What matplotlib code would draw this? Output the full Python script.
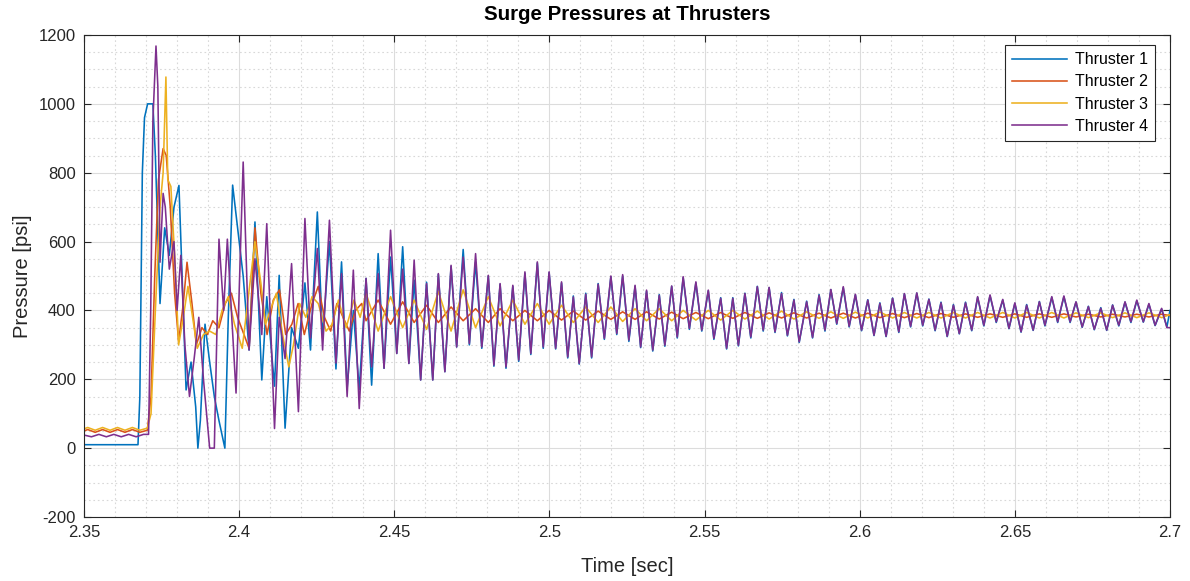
import numpy as np
import matplotlib
matplotlib.use("Agg")
import matplotlib.pyplot as plt
from matplotlib.ticker import MultipleLocator, FuncFormatter

plt.rcParams['font.family'] = ['Liberation Sans', 'DejaVu Sans']
plt.rcParams['axes.unicode_minus'] = False

# ---------------- data ----------------
series_names = ['Thruster 1', 'Thruster 2', 'Thruster 3', 'Thruster 4']
series_colors = ['#0072BD', '#D95319', '#EDB120', '#7E2F8E']

# early transient, Thruster 1
t1_early = [2.3500, 2.3674, 2.3680, 2.3688, 2.3695, 2.3705, 2.3722, 2.3730, 2.3745,
            2.3760, 2.3775, 2.3790, 2.3806, 2.3818, 2.3829, 2.3845, 2.3860, 2.3867,
            2.3875, 2.3890, 2.3905, 2.3920, 2.3935, 2.3954, 2.3965, 2.3979]
p1_early = [10, 10, 150, 800, 960, 1000, 1000, 850, 420,
            640, 560, 700, 763, 450, 169, 250, 120, 0,
            80, 360, 250, 150, 80, 0, 380, 764]

# early transient, Thruster 4
t4_early = [2.3500, 2.3524, 2.3548, 2.3572, 2.3596, 2.3620, 2.3644, 2.3668, 2.3692,
            2.3708, 2.3715, 2.3722, 2.3732, 2.3738, 2.3745, 2.3755, 2.3762, 2.3775,
            2.3790, 2.3800, 2.3812, 2.3825, 2.3840, 2.3855, 2.3870, 2.3885, 2.3905,
            2.3920, 2.3935, 2.3950, 2.3962, 2.3990]
p4_early = [38, 33, 40, 33, 40, 33, 40, 33, 40,
            40, 400, 950, 1168, 1050, 540, 740, 700, 520,
            600, 400, 560, 300, 150, 260, 380, 200, 0,
            0, 607, 400, 607, 160]

# early transient, Thruster 2
t2_early = [2.3500, 2.3512, 2.3536, 2.3560, 2.3584, 2.3608, 2.3632, 2.3656, 2.3680,
            2.3704, 2.3716, 2.3728, 2.3740, 2.3755, 2.3765, 2.3778, 2.3792, 2.3805,
            2.3820, 2.3832, 2.3848, 2.3862, 2.3880, 2.3898, 2.3915, 2.3935, 2.3955,
            2.3975, 2.3995, 2.4032, 2.4051, 2.4070, 2.4090, 2.4110, 2.4130, 2.4150,
            2.4170, 2.4190, 2.4210, 2.4235, 2.4255, 2.4275, 2.4295, 2.4315, 2.4335,
            2.4355, 2.4375, 2.4395]
p2_early = [50, 54, 46, 54, 46, 54, 46, 54, 46,
            52, 150, 500, 780, 870, 850, 700, 450, 310,
            420, 540, 420, 300, 350, 330, 370, 350, 420,
            450, 380, 290, 640, 450, 330, 430, 460, 330,
            360, 420, 330, 420, 470, 380, 340, 420, 380,
            340, 400, 420]

# early transient, Thruster 3
t3_early = [2.3500, 2.3512, 2.3536, 2.3560, 2.3584, 2.3608, 2.3632, 2.3656, 2.3680,
            2.3704, 2.3716, 2.3730, 2.3745, 2.3755, 2.3764, 2.3770, 2.3780, 2.3792,
            2.3805, 2.3820, 2.3835, 2.3850, 2.3865, 2.3885, 2.3905, 2.3925, 2.3945,
            2.3965, 2.3985, 2.4010, 2.4035, 2.4051, 2.4070, 2.4085, 2.4100, 2.4120,
            2.4140, 2.4160, 2.4175, 2.4195, 2.4215, 2.4235, 2.4255, 2.4280, 2.4300,
            2.4320, 2.4345, 2.4370, 2.4390]
p3_early = [56, 60, 52, 60, 52, 60, 52, 60, 52,
            58, 100, 400, 700, 800, 1078, 780, 760, 560,
            300, 380, 470, 380, 290, 330, 340, 330, 400,
            440, 360, 290, 480, 600, 480, 360, 400, 450,
            330, 236, 300, 420, 380, 440, 420, 340, 360,
            430, 350, 430, 380]

# times of the oscillation crests and troughs (Thrusters 1 and 4)
t_crest = [2.4013, 2.4051, 2.4089, 2.4129, 2.4169, 2.4212, 2.4252, 2.4291, 2.4330, 2.4368,
           2.4409, 2.4448, 2.4488, 2.4527, 2.4564, 2.4604, 2.4642, 2.4683, 2.4722, 2.4762,
           2.4803, 2.4841, 2.4882, 2.4921, 2.4961, 2.4999, 2.5039, 2.5077, 2.5117, 2.5157,
           2.5198, 2.5236, 2.5276, 2.5313, 2.5354, 2.5394, 2.5431, 2.5472, 2.5512, 2.5552,
           2.5591, 2.5630, 2.5670, 2.5708, 2.5748, 2.5788, 2.5829, 2.5869, 2.5907, 2.5947,
           2.5986, 2.6026, 2.6065, 2.6106, 2.6144, 2.6184, 2.6223, 2.6262, 2.6302, 2.6341,
           2.6380, 2.6420, 2.6461, 2.6500, 2.6538, 2.6579, 2.6619, 2.6658, 2.6697, 2.6737,
           2.6777, 2.6815, 2.6855, 2.6893, 2.6932, 2.6973]
t_trough = [2.4032, 2.4073, 2.4114, 2.4148, 2.4191, 2.4230, 2.4269, 2.4312, 2.4348, 2.4387,
            2.4427, 2.4467, 2.4508, 2.4547, 2.4585, 2.4624, 2.4663, 2.4701, 2.4742, 2.4782,
            2.4821, 2.4860, 2.4901, 2.4940, 2.4980, 2.5020, 2.5059, 2.5096, 2.5136, 2.5177,
            2.5217, 2.5256, 2.5294, 2.5333, 2.5372, 2.5412, 2.5451, 2.5491, 2.5530, 2.5571,
            2.5609, 2.5649, 2.5689, 2.5727, 2.5767, 2.5805, 2.5848, 2.5888, 2.5926, 2.5966,
            2.6006, 2.6046, 2.6085, 2.6126, 2.6164, 2.6203, 2.6243, 2.6282, 2.6321, 2.6361,
            2.6400, 2.6440, 2.6481, 2.6520, 2.6559, 2.6597, 2.6638, 2.6678, 2.6717, 2.6756,
            2.6796, 2.6835, 2.6874, 2.6914, 2.6952, 2.6990]

p4_crest = [831, 550, 652, 380, 536, 667, 580, 662, 507, 517,
            493, 507, 633, 520, 546, 478, 507, 531, 555, 565,
            502, 478, 473, 512, 541, 512, 483, 439, 447, 476,
            500, 504, 473, 459, 444, 471, 498, 483, 459, 435,
            435, 449, 469, 467, 449, 430, 425, 444, 461, 469,
            447, 430, 420, 435, 449, 451, 432, 422, 415, 422,
            440, 445, 432, 422, 415, 425, 440, 442, 425, 411,
            406, 415, 425, 430, 420, 406]
p4_trough = [285, 330, 57, 260, 106, 320, 285, 247, 150, 115,
             236, 232, 275, 246, 198, 198, 222, 294, 304, 294,
             241, 236, 256, 275, 294, 290, 265, 246, 265, 319,
             333, 314, 294, 285, 299, 323, 348, 343, 319, 290,
             299, 323, 343, 338, 328, 309, 322, 343, 362, 354,
             343, 328, 325, 338, 354, 357, 343, 325, 333, 343,
             357, 367, 348, 338, 343, 357, 367, 367, 352, 345,
             343, 357, 367, 367, 357, 350]
p1_crest = [500, 657, 440, 502, 350, 480, 686, 600, 541, 400,
            493, 565, 555, 585, 488, 482, 505, 528, 577, 540,
            500, 476, 470, 508, 538, 510, 480, 442, 450, 478,
            498, 500, 470, 456, 446, 470, 495, 480, 457, 437,
            437, 450, 470, 466, 452, 432, 427, 446, 460, 466,
            445, 431, 422, 436, 448, 450, 433, 424, 417, 424,
            438, 443, 430, 420, 417, 426, 438, 440, 424, 412,
            408, 416, 424, 428, 418, 404]
p1_trough = [285, 198, 180, 58, 290, 285, 320, 230, 174, 170,
             183, 232, 275, 246, 198, 198, 222, 294, 300, 290,
             238, 232, 252, 272, 290, 288, 262, 244, 262, 316,
             330, 310, 292, 282, 296, 320, 345, 340, 316, 288,
             297, 320, 340, 336, 326, 307, 320, 340, 360, 352,
             341, 327, 324, 336, 352, 355, 341, 324, 332, 341,
             355, 365, 347, 337, 342, 355, 365, 365, 351, 344,
             342, 355, 365, 366, 356, 352]
p1_end, p4_end = 400, 350

# Thrusters 2 and 3 after 2.44 s (values at every crest time from 2.4409 on)
p2_late = [370, 430, 360, 425, 365, 415, 365, 410, 370, 405,
           365, 405, 370, 400, 370, 400, 372, 398, 372, 398,
           374, 396, 374, 396, 375, 395, 376, 394, 376, 394,
           377, 394, 377, 393, 378, 393, 378, 392, 378, 392,
           378, 392, 379, 391, 379, 391, 379, 391, 380, 390,
           380, 390, 380, 390, 380, 390, 380, 390, 381, 389,
           381, 389, 381, 389, 381, 389]
p3_late = [450, 340, 440, 350, 430, 345, 455, 340, 460, 350,
           440, 355, 430, 360, 420, 360, 415, 365, 410, 365,
           410, 368, 405, 370, 405, 370, 400, 372, 400, 372,
           400, 375, 398, 375, 398, 375, 396, 377, 396, 377,
           395, 378, 395, 378, 394, 378, 394, 378, 394, 378,
           394, 378, 394, 378, 394, 378, 394, 378, 393, 379,
           393, 379, 393, 379, 393, 379]
p23_end = [385, 388]

x_ticks = [2.35, 2.40, 2.45, 2.50, 2.55, 2.60, 2.65, 2.70]
y_ticks = [-200, 0, 200, 400, 600, 800, 1000, 1200]

# ---------------- assemble series ----------------
t_osc = np.column_stack((t_crest, t_trough)).ravel()
p1_osc = np.column_stack((p1_crest, p1_trough)).ravel()
p4_osc = np.column_stack((p4_crest, p4_trough)).ravel()

t1 = np.concatenate([t1_early, t_osc, [2.70]])
p1 = np.concatenate([p1_early, p1_osc, [p1_end]])
t4 = np.concatenate([t4_early, t_osc, [2.70]])
p4 = np.concatenate([p4_early, p4_osc, [p4_end]])
t_late = np.asarray(t_crest)[10:]
t2 = np.concatenate([t2_early, t_late, [2.70]])
p2 = np.concatenate([p2_early, p2_late, [p23_end[0]]])
t3 = np.concatenate([t3_early, t_late, [2.70]])
p3 = np.concatenate([p3_early, p3_late, [p23_end[1]]])

# ---------------- figure ----------------
W, H = 1190, 581
fig = plt.figure(figsize=(W / 100, H / 100), dpi=100)
ax = fig.add_axes([84 / W, 1 - 517 / H, (1170 - 84) / W, (517 - 35) / H])

for t, p, name, c in zip([t1, t2, t3, t4], [p1, p2, p3, p4], series_names, series_colors):
    ax.plot(t, p, color=c, lw=1.15, label=name)

ax.set_xlim(2.35, 2.70)
ax.set_ylim(-200, 1200)
ax.set_xticks(x_ticks)
ax.set_yticks(y_ticks)
ax.xaxis.set_minor_locator(MultipleLocator(0.01))
ax.yaxis.set_minor_locator(MultipleLocator(50))
ax.xaxis.set_major_formatter(FuncFormatter(lambda v, p: '%g' % round(v, 2)))

ax.grid(which='major', color='#dcdcdc', lw=0.8, ls='-')
ax.grid(which='minor', color='#d8d8d8', lw=0.8, ls=(0, (1.5, 2.5)))
ax.set_axisbelow(True)

ax.tick_params(which='major', direction='in', top=True, right=True, length=5,
               width=0.8, color='#262626', labelsize=12, labelcolor='#262626', pad=6)
ax.tick_params(which='minor', length=0)
for s in ax.spines.values():
    s.set_color('#262626')
    s.set_linewidth(0.8)

ax.set_title('Surge Pressures at Thrusters', fontsize=14.8, fontweight='bold', pad=11)
ax.set_xlabel('Time [sec]', fontsize=14.5, labelpad=12, color='#262626')
ax.set_ylabel('Pressure [psi]', fontsize=14.5, labelpad=5, color='#262626')

leg = ax.legend(loc='upper right', bbox_to_anchor=(1 - 15 / 1086, 1 - 10 / 482),
                borderaxespad=0, fontsize=11.5, handlelength=3.4, labelspacing=0.45,
                fancybox=False, framealpha=1, edgecolor='#262626', borderpad=0.45,
                handletextpad=0.5)
leg.get_frame().set_linewidth(0.8)

fig.savefig('out.png', dpi=100)
